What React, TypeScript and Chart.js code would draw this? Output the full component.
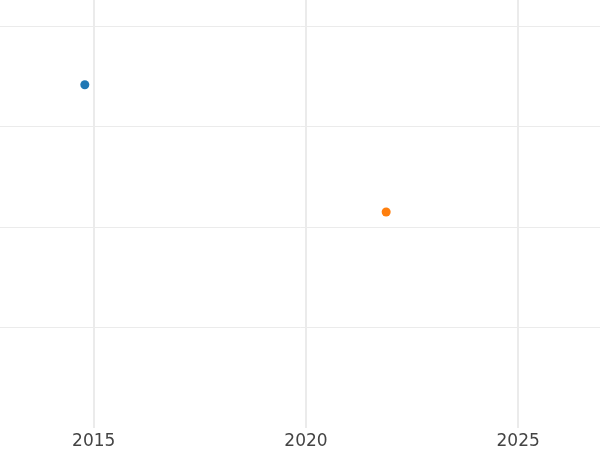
import React, { useEffect, useRef } from "react";
import { Chart, registerables } from "chart.js";

Chart.register(...registerables);

const seriesNames = ["A", "B"];
const seriesColors = ["#1f77b4", "#ff7f0e"];
const xValues = [2014.79, 2021.89];
const yValues = [3.42, 2.15];
const xTicks = [2015, 2020, 2025];
const yGridValues = [1, 2, 3, 4];

export default function App() {
  const ref = useRef<HTMLCanvasElement | null>(null);
  useEffect(() => {
    if (!ref.current) return;
    const chart = new Chart(ref.current, {
      type: "scatter",
      data: {
        datasets: seriesNames.map((name, i) => ({
          label: name,
          data: [{ x: xValues[i], y: yValues[i] }],
          backgroundColor: seriesColors[i],
          borderColor: seriesColors[i],
          pointRadius: 4.5,
          borderWidth: 0,
        })),
      },
      options: {
        responsive: false,
        animation: false,
        layout: { padding: 0 },
        plugins: { legend: { display: false }, tooltip: { enabled: false } },
        scales: {
          x: {
            type: "linear",
            min: 2012.78,
            max: 2026.94,
            border: { display: false },
            grid: { color: "#ebebeb", lineWidth: 2, drawTicks: false },
            afterBuildTicks: (s: any) => {
              s.ticks = xTicks.map((v) => ({ value: v }));
            },
            ticks: {
              padding: 4,
              color: "#444",
              font: { family: "DejaVu Sans", size: 17 },
              callback: (v: any) => String(v),
            },
          },
          y: {
            type: "linear",
            min: 0,
            max: 4.27,
            border: { display: false },
            grid: { color: "#ebebeb", lineWidth: 1, drawTicks: false },
            afterBuildTicks: (s: any) => {
              s.ticks = yGridValues.map((v) => ({ value: v }));
            },
            ticks: { display: false },
            afterFit: (s: any) => {
              s.width = 0;
            },
          },
        },
      },
    });
    return () => chart.destroy();
  }, []);
  return (
    <div
      style={{
        position: "fixed",
        left: 0,
        top: 0,
        width: 600,
        height: 450,
        overflow: "hidden",
        background: "#fff",
      }}
    >
      <canvas
        ref={ref}
        width={610}
        height={461}
        style={{ position: "absolute", left: -5, top: -5 }}
      />
    </div>
  );
}
